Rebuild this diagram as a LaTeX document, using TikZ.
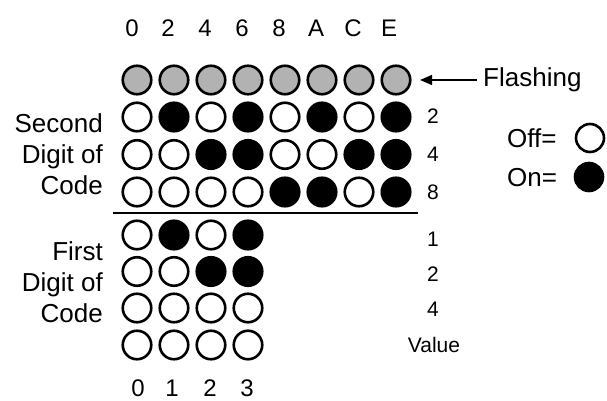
\documentclass[tikz,border=0pt]{standalone}
\usepackage{fontspec}
\setmainfont{Liberation Sans}
\usepackage{tikz}
\usetikzlibrary{arrows.meta}
\newcommand{\flashcolor}{black!30}
\newcommand{\ledwidth}{2.6pt}
\newcommand{\ledsize}{28.5pt}
\tikzset{
  led/.style={circle, draw, line width=\ledwidth, minimum size=\ledsize, inner sep=0pt},
  ledoff/.style={led, fill=white},
  ledon/.style={led, fill=black},
  ledflash/.style={led, fill=\flashcolor},
  bigtxt/.style={font=\fontsize{26}{31}\selectfont, inner sep=0pt},
  coltxt/.style={font=\fontsize{24}{28}\selectfont, inner sep=0pt},
  valtxt/.style={font=\fontsize{21}{25}\selectfont, inner sep=0pt}
}
\begin{document}
\begin{tikzpicture}[x=1pt,y=-1pt]
\useasboundingbox (0,0) rectangle (607,401);
%top
\node[coltxt] (t0) at (132, 28.5) {0};
\node[coltxt] (t2) at (168, 28.5) {2};
\node[coltxt] (t4) at (205, 28.5) {4};
\node[coltxt] (t6) at (242, 28.5) {6};
\node[coltxt] (t8) at (279, 28.5) {8};
\node[coltxt] (tA) at (316, 28.5) {A};
\node[coltxt] (tC) at (353, 28.5) {C};
\node[coltxt] (tE) at (389, 28.5) {E};
%flashing
\node[ledflash] (r1c0) at (137, 80) {};
\node[ledflash] (r1c1) at (174, 80) {};
\node[ledflash] (r1c2) at (211, 80) {};
\node[ledflash] (r1c3) at (248, 80) {};
\node[ledflash] (r1c4) at (285, 80) {};
\node[ledflash] (r1c5) at (322, 80) {};
\node[ledflash] (r1c6) at (359, 80) {};
\node[ledflash] (r1c7) at (396, 80) {};
%2
\node[ledoff] (r2c0) at (137, 117) {};
\node[ledon]  (r2c1) at (174, 117) {};
\node[ledoff] (r2c2) at (211, 117) {};
\node[ledon]  (r2c3) at (248, 117) {};
\node[ledoff] (r2c4) at (285, 117) {};
\node[ledon]  (r2c5) at (322, 117) {};
\node[ledoff] (r2c6) at (359, 117) {};
\node[ledon]  (r2c7) at (396, 117) {};
%4
\node[ledoff] (r3c0) at (137, 154.5) {};
\node[ledoff] (r3c1) at (174, 154.5) {};
\node[ledon]  (r3c2) at (211, 154.5) {};
\node[ledon]  (r3c3) at (248, 154.5) {};
\node[ledoff] (r3c4) at (285, 154.5) {};
\node[ledoff] (r3c5) at (322, 154.5) {};
\node[ledon]  (r3c6) at (359, 154.5) {};
\node[ledon]  (r3c7) at (396, 154.5) {};
%8
\node[ledoff] (r4c0) at (137, 192) {};
\node[ledoff] (r4c1) at (174, 192) {};
\node[ledoff] (r4c2) at (211, 192) {};
\node[ledoff] (r4c3) at (248, 192) {};
\node[ledon]  (r4c4) at (285, 192) {};
\node[ledon]  (r4c5) at (322, 192) {};
\node[ledoff] (r4c6) at (359, 192) {};
\node[ledon]  (r4c7) at (396, 192) {};
%rule
\coordinate (rulel) at (113, 213);
\coordinate (ruler) at (418, 213);
\draw[line width=1.6pt] (rulel) -- (ruler);
%1
\node[ledoff] (r5c0) at (137, 235) {};
\node[ledon]  (r5c1) at (174, 235) {};
\node[ledoff] (r5c2) at (211, 235) {};
\node[ledon]  (r5c3) at (248, 235) {};
%2
\node[ledoff] (r6c0) at (137, 271.5) {};
\node[ledoff] (r6c1) at (174, 271.5) {};
\node[ledon]  (r6c2) at (211, 271.5) {};
\node[ledon]  (r6c3) at (248, 271.5) {};
%4
\node[ledoff] (r7c0) at (137, 308) {};
\node[ledoff] (r7c1) at (174, 308) {};
\node[ledoff] (r7c2) at (211, 308) {};
\node[ledoff] (r7c3) at (248, 308) {};
%value
\node[ledoff] (r8c0) at (137, 345) {};
\node[ledoff] (r8c1) at (174, 345) {};
\node[ledoff] (r8c2) at (211, 345) {};
\node[ledoff] (r8c3) at (248, 345) {};
%bottom
\node[coltxt] (b0) at (138, 388.5) {0};
\node[coltxt] (b1) at (172, 388.5) {1};
\node[coltxt] (b2) at (210, 388.5) {2};
\node[coltxt] (b3) at (247, 388.5) {3};
%left
\node[bigtxt, align=right, anchor=east] (second) at (103, 154.5) {Second\\Digit of\\Code};
\node[bigtxt, align=right, anchor=east] (first) at (103, 282) {First\\Digit of\\Code};
%right
\node[valtxt] (v2) at (433, 116) {2};
\node[valtxt] (v4) at (433, 154.5) {4};
\node[valtxt] (v8) at (433, 192.5) {8};
\node[valtxt] (w1) at (433, 239) {1};
\node[valtxt] (w2) at (433, 274) {2};
\node[valtxt] (w4) at (433, 309) {4};
\node[valtxt] (value) at (434, 345) {Value};
%legend
\node[bigtxt, anchor=base west] (flash) at (483, 86.7) {Flashing};
\draw[line width=1.5pt, -{Triangle[length=12pt,width=10pt]}, shorten >=8.5pt, shorten <=6pt] (flash.west) -- (flash.west -| r1c7.east);
\node[bigtxt, anchor=base west] (offtxt) at (507, 147) {Off=};
\node[ledoff, minimum size=28pt] (offkey) at (590, 138) {};
\node[bigtxt, anchor=base west] (ontxt) at (507, 186) {On=};
\node[ledon, minimum size=28pt] (onkey) at (589, 177) {};
\end{tikzpicture}
\end{document}
